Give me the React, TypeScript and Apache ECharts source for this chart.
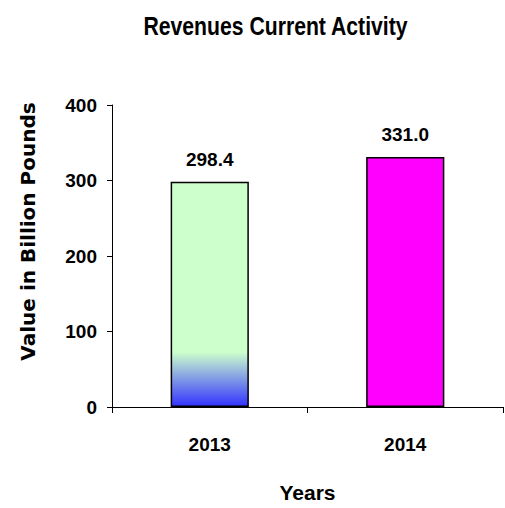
import React, { useEffect, useRef } from "react";
import * as echarts from "echarts";

const categories = ["2013", "2014"];
const values = [298.4, 331.0];
const yMin = 0;
const yMax = 400;
const yInterval = 100;
const titleText = "Revenues Current Activity";
const xName = "Years";
const yName = "Value in Billion Pounds";

const ARIAL = "'Liberation Sans', Arial, sans-serif";
const WIDE = "'DejaVu Sans', Verdana, sans-serif";

export default function App() {
  const ref = useRef<HTMLDivElement>(null);
  useEffect(() => {
    if (!ref.current) return;
    const chart = echarts.init(ref.current, null, { renderer: "svg" });
    const barStyles = [
      {
        color: new echarts.graphic.LinearGradient(0, 0, 0, 1, [
          { offset: 0, color: "#CCFFCC" },
          { offset: 0.758, color: "#CCFFCC" },
          { offset: 1, color: "#3333FF" },
        ]),
      },
      { color: "#FF00FF" },
    ];
    chart.setOption({
      animation: false,
      backgroundColor: "#ffffff",
      grid: { left: 112, right: 2, top: 105, bottom: 100, containLabel: false },
      xAxis: {
        type: "category",
        data: categories,
        name: xName,
        nameLocation: "middle",
        nameGap: 75,
        nameTextStyle: { fontFamily: ARIAL, fontWeight: "bold", fontSize: 21, color: "#000" },
        axisLine: { lineStyle: { color: "#000", width: 1 } },
        axisTick: { show: true, length: 6, alignWithLabel: false, lineStyle: { color: "#000" } },
        axisLabel: { margin: 28, fontFamily: ARIAL, fontWeight: "bold", fontSize: 19, color: "#000" },
        splitLine: { show: false },
      },
      yAxis: {
        type: "value",
        min: yMin,
        max: yMax,
        interval: yInterval,
        axisLine: { show: true, lineStyle: { color: "#000", width: 1 } },
        axisTick: { show: true, length: 5, lineStyle: { color: "#000" } },
        axisLabel: { margin: 15, fontFamily: ARIAL, fontWeight: "bold", fontSize: 19, color: "#000" },
        splitLine: { show: false },
      },
      graphic: [
        {
          type: "text",
          x: 275.5,
          y: 26,
          scaleX: 0.815,
          style: {
            text: titleText,
            fontFamily: ARIAL,
            fontWeight: "bold",
            fontSize: 26,
            fill: "#000",
            align: "center",
            verticalAlign: "middle",
          },
        },
        {
          type: "text",
          x: 27.5,
          y: 231.5,
          rotation: Math.PI / 2,
          style: {
            text: yName,
            fontFamily: WIDE,
            fontWeight: "bold",
            fontSize: 20,
            fill: "#000",
            align: "center",
            verticalAlign: "middle",
          },
        },
      ],
      series: [
        {
          type: "bar",
          barWidth: "40%",
          data: values.map((v, i) => ({
            value: v,
            itemStyle: { ...barStyles[i], borderColor: "#000", borderWidth: 1.5 },
          })),
          label: {
            show: true,
            position: "top",
            distance: 13,
            formatter: (p: any) => Number(p.value).toFixed(1),
            fontFamily: ARIAL,
            fontWeight: "bold",
            fontSize: 19,
            color: "#000",
          },
        },
      ],
    });
    return () => chart.dispose();
  }, []);
  return (
    <div
      ref={ref}
      style={{ position: "absolute", left: 0, top: 0, width: 505, height: 508, background: "#fff" }}
    />
  );
}
